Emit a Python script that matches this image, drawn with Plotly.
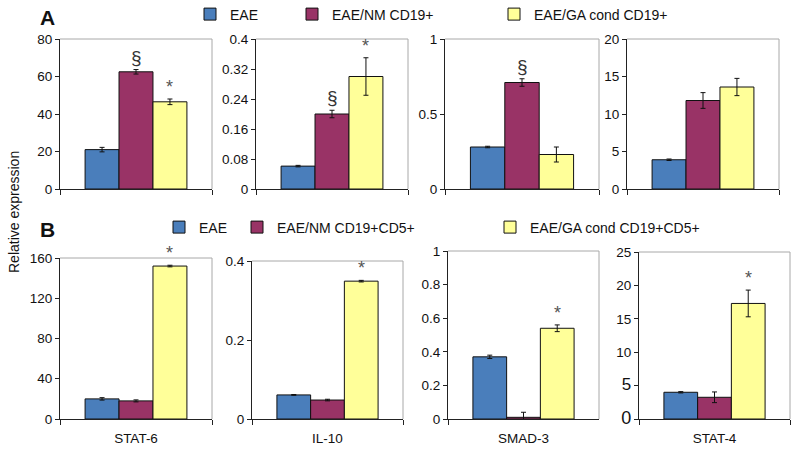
import plotly.graph_objects as go

# ---------------- data ----------------
genes = ["STAT-6", "IL-10", "SMAD-3", "STAT-4"]

series_A = ["EAE", "EAE/NM CD19+", "EAE/GA cond CD19+"]
series_B = ["EAE", "EAE/NM CD19+CD5+", "EAE/GA cond CD19+CD5+"]
colors = ["#4a7ebb", "#993366", "#ffff99"]

# Panel A values (per gene: EAE, NM, GA)
A_eae = [21, 0.061, 0.28, 3.9]
A_nm = [62.5, 0.20, 0.71, 11.8]
A_ga = [46.5, 0.30, 0.23, 13.6]
A_eae_err = [1.2, 0.002, 0.005, 0.1]
A_nm_err = [1.2, 0.01, 0.025, 1.05]
A_ga_err = [1.5, 0.05, 0.05, 1.15]
A_marks_nm = ["§", "§", "§", ""]
A_marks_ga = ["*", "*", "", ""]

# Panel B values
B_eae = [20, 0.061, 0.37, 4.0]
B_nm = [18, 0.048, 0.01, 3.25]
B_ga = [152, 0.349, 0.54, 17.3]
B_eae_err = [1.2, 0.001, 0.01, 0.1]
B_nm_err = [1.0, 0.002, 0.03, 0.8]
B_ga_err = [0.8, 0.002, 0.02, 2.0]
B_marks_ga = ["*", "*", "*", "*"]

# axis ranges & ticks
A_ymax = [80, 0.4, 1, 20]
A_ticks = [[0, 20, 40, 60, 80], [0, 0.08, 0.16, 0.24, 0.32, 0.4], [0, 0.5, 1], [0, 5, 10, 15, 20]]
A_ticktext = [["0", "20", "40", "60", "80"], ["0", "0.08", "0.16", "0.24", "0.32", "0.4"],
              ["0", "0.5", "1"], ["0", "5", "10", "15", "20"]]
B_ymax = [160, 0.4, 1, 25]
B_ticks = [[0, 40, 80, 120, 160], [0, 0.2, 0.4], [0, 0.2, 0.4, 0.6, 0.8, 1], [0, 5, 10, 15, 20, 25]]
B_ticktext = [["0", "40", "80", "120", "160"], ["0", "0.2", "0.4"],
              ["0", "0.2", "0.4", "0.6", "0.8", "1"],
              ['<span style="font-size:18px">0</span>', '<span style="font-size:17px">5</span>',
               "10", "15", "20", "25"]]

# ---------------- layout geometry (page pixels) ----------------
W, H = 800, 450


def fx(px):
    return px / W


def fy(py):
    return 1 - py / H


A_box = [(60, 212, 39, 189), (256, 408, 39, 189), (445, 599, 39, 189), (627, 779, 39, 189)]
B_box = [(60, 212, 258, 419), (252, 403, 261, 419), (448, 599, 251, 419), (639, 790, 252, 419)]

FONT = "Liberation Sans, Arial, sans-serif"
fig = go.Figure()
layout = {}
annotations = []
shapes = []


def add_panel(idx, box, cat, vals, errs, names, ymax, tvals, ttext, legends, show_labels, marks):
    n = idx + 1
    xa = "x" if n == 1 else f"x{n}"
    ya = "y" if n == 1 else f"y{n}"
    for s in range(3):
        fig.add_trace(go.Bar(
            x=[cat], y=[vals[s]], name=names[s],
            marker=dict(color=colors[s], line=dict(color="#111111", width=1)),
            error_y=dict(type="data", array=[errs[s]], color="#111111", thickness=1, width=2.5),
            xaxis=xa, yaxis=ya,
            legend=legends[s], showlegend=legends[s] is not None,
        ))
    x0, x1, y0, y1 = box
    layout[f"xaxis{'' if n == 1 else n}"] = dict(
        domain=[fx(x0), fx(x1)], anchor=ya, range=[-0.5, 0.5], type="category",
        tickson="boundaries", ticks="outside", ticklen=5, tickcolor="#222222",
        showline=True, linecolor="#222222", linewidth=1, showgrid=False,
        showticklabels=show_labels, tickfont=dict(size=13.5, color="#111111", family=FONT),
        ticklabelstandoff=7, fixedrange=True,
    )
    layout[f"yaxis{'' if n == 1 else n}"] = dict(
        domain=[fy(y1), fy(y0)], anchor=xa, range=[0, ymax],
        tickvals=tvals, ticktext=ttext, ticks="outside", ticklen=4, tickcolor="#222222",
        showline=True, linecolor="#222222", linewidth=1, showgrid=False, zeroline=False,
        tickfont=dict(size=13.5, color="#111111", family=FONT), fixedrange=True,
    )
    # light grey top & right frame
    shapes.append(dict(type="line", xref=f"{xa} domain", yref=f"{ya} domain", x0=0, x1=1, y0=1, y1=1,
                       line=dict(color="#a8a8a8", width=1)))
    shapes.append(dict(type="line", xref=f"{xa} domain", yref=f"{ya} domain", x0=1, x1=1, y0=0, y1=1,
                       line=dict(color="#a8a8a8", width=1)))
    # significance marks
    barw = (x1 - x0) * 0.67 / 3
    for s, mk in marks:
        if mk:
            top = vals[s] + errs[s]
            big = mk == "§"
            annotations.append(dict(
                x=cat, y=top, xref=xa, yref=ya, text=mk, showarrow=False,
                xshift=(s - 1) * barw, xanchor="center", yanchor="bottom",
                font=dict(size=19 if big else 18, color="#333333" if big else "#555555", family=FONT),
            ))


for i in range(4):
    add_panel(i, A_box[i], genes[i], [A_eae[i], A_nm[i], A_ga[i]],
              [A_eae_err[i], A_nm_err[i], A_ga_err[i]], series_A, A_ymax[i], A_ticks[i], A_ticktext[i],
              ["legend", "legend2", "legend3"] if i == 0 else [None] * 3, False,
              [(1, A_marks_nm[i]), (2, A_marks_ga[i])])
for i in range(4):
    add_panel(4 + i, B_box[i], genes[i], [B_eae[i], B_nm[i], B_ga[i]],
              [B_eae_err[i], B_nm_err[i], B_ga_err[i]], series_B, B_ymax[i], B_ticks[i], B_ticktext[i],
              ["legend4", "legend5", "legend6"] if i == 0 else [None] * 3, True,
              [(2, B_marks_ga[i])])

# legends (px = left edge of the colour square, py = its centre)
leg_pos = {"legend": (203, 14.5), "legend2": (305, 14.5), "legend3": (507, 14.5),
           "legend4": (172, 227.5), "legend5": (250, 227.5), "legend6": (503, 227.5)}
for k, (px, py) in leg_pos.items():
    layout[k] = dict(x=fx(px - 13), y=fy(py), xanchor="left", yanchor="middle",
                     orientation="h", bgcolor="rgba(0,0,0,0)", borderwidth=0,
                     font=dict(size=14, color="#111111", family=FONT), itemclick=False)

annotations.append(dict(x=fx(47.5), y=fy(17.5), xref="paper", yref="paper", text="<b>A</b>",
                        xanchor="center", yanchor="middle",
                        showarrow=False, font=dict(size=21, color="#111111", family=FONT)))
annotations.append(dict(x=fx(47.5), y=fy(229.5), xref="paper", yref="paper", text="<b>B</b>",
                        xanchor="center", yanchor="middle",
                        showarrow=False, font=dict(size=21, color="#111111", family=FONT)))
annotations.append(dict(x=fx(14), y=fy(212), xref="paper", yref="paper", text="Relative expression",
                        xanchor="center", yanchor="middle",
                        textangle=-90, showarrow=False, font=dict(size=14, color="#111111", family=FONT)))

fig.update_layout(
    width=W, height=H, margin=dict(l=0, r=0, t=0, b=0, autoexpand=False),
    paper_bgcolor="white", plot_bgcolor="white",
    barmode="group", bargap=0.33, bargroupgap=0,
    font=dict(family=FONT, color="#111111"),
    annotations=annotations, shapes=shapes, **layout,
)
# remove the browser's default 8px page margin so the figure fills the window exactly
fig.write_html("out.html", config={"displayModeBar": False},
               post_script="document.body.style.margin='0px';")
